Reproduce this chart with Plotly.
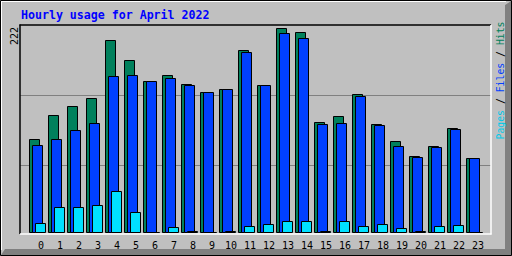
import plotly.graph_objects as go

hours = list(range(24))
hour_labels = [str(h) for h in hours]
hits = [101, 127, 137, 146, 209, 187, 164, 171, 161, 152, 156, 198, 160, 222, 218, 120, 126, 150, 118, 99, 83, 94, 113, 80]
files = [95, 101, 111, 119, 170, 171, 164, 168, 160, 152, 156, 196, 160, 217, 211, 118, 119, 148, 117, 94, 82, 92, 112, 80]
pages = [10, 27, 27, 29, 44, 22, 0, 5, 1, 0, 1, 6, 8, 12, 12, 1, 12, 6, 8, 4, 1, 6, 7, 0]
grid_values = [73, 150]
max_label = "222"
title = "Hourly usage for April 2022"

C_HITS = "#00805C"
C_FILES = "#0040FF"
C_PAGES = "#00E0FF"
BG = "#C0C0C0"

W, H = 512, 256
PX0, PX1, PY0, PY1 = 20, 491, 25, 233
UNIT = 19.0  # px per hour


def px(x):
    return (x - PX0) / (PX1 - PX0)


def py(y):
    return (PY1 - y) / (PY1 - PY0)


bw = 10 / UNIT
fig = go.Figure()
for vals, col, off in [(hits, C_HITS, -11), (files, C_FILES, -8), (pages, C_PAGES, -5)]:
    fig.add_trace(go.Bar(
        x=hours, y=vals, width=bw, offset=off / UNIT,
        marker=dict(color=col, line=dict(color="black", width=1)),
        hoverinfo="skip", showlegend=False))

shapes = []
# outer frame
shapes.append(dict(type="rect", xref="paper", yref="paper",
                   x0=px(0.5), x1=px(511.5), y0=py(0.5), y1=py(255.5),
                   line=dict(color="black", width=1), layer="below"))
shapes.append(dict(type="line", xref="paper", yref="paper",
                   x0=px(1), x1=px(506), y0=py(1.5), y1=py(1.5),
                   line=dict(color="white", width=1)))
shapes.append(dict(type="line", xref="paper", yref="paper",
                   x0=px(1.5), x1=px(1.5), y0=py(1), y1=py(250),
                   line=dict(color="white", width=1)))
path = "M {} {} L {} {} L {} {} L {} {} L {} {} L {} {} Z".format(
    px(511), py(1), px(511), py(255), px(1), py(255), px(5), py(249),
    px(505), py(249), px(505), py(5))
shapes.append(dict(type="path", xref="paper", yref="paper", path=path,
                   fillcolor="#808080", line=dict(width=0)))
# plot area border
shapes.append(dict(type="line", xref="paper", yref="paper",
                   x0=px(19.5), x1=px(491), y0=py(25), y1=py(25),
                   line=dict(color="black", width=1.5)))
shapes.append(dict(type="line", xref="paper", yref="paper",
                   x0=px(20), x1=px(20), y0=py(24.5), y1=py(234),
                   line=dict(color="black", width=1.5)))
shapes.append(dict(type="line", xref="paper", yref="paper",
                   x0=px(20), x1=px(491.5), y0=py(234), y1=py(234),
                   line=dict(color="white", width=1.5)))
shapes.append(dict(type="line", xref="paper", yref="paper",
                   x0=px(491), x1=px(491), y0=py(25), y1=py(234.5),
                   line=dict(color="white", width=1.5)))

annotations = []
for h, lab in zip(hours, hour_labels):
    annotations.append(dict(x=h, y=py(245), xref="x", yref="paper", text=lab,
                            showarrow=False, xanchor="center", yanchor="middle",
                            font=dict(family="DejaVu Sans Mono", size=10, color="black")))
annotations.append(dict(x=px(19), y=py(15), xref="paper", yref="paper", text="<b>" + title + "</b>",
                        showarrow=False, xanchor="left", yanchor="middle",
                        font=dict(family="DejaVu Sans Mono", size=11.6, color="#0000FF")))
annotations.append(dict(x=px(14), y=py(36), xref="paper", yref="paper", text=max_label,
                        textangle=-90, showarrow=False, xanchor="center", yanchor="middle",
                        font=dict(family="DejaVu Sans Mono", size=10, color="black")))
side = ("<span style='color:#00C8E8'>Pages</span> / "
        "<span style='color:#0040FF'>Files</span> / "
        "<span style='color:#00805C'>Hits</span>")
annotations.append(dict(x=px(499.5), y=py(81), xref="paper", yref="paper", text=side,
                        textangle=-90, showarrow=False, xanchor="center", yanchor="middle",
                        font=dict(family="DejaVu Sans Mono", size=9.8, color="black")))

vmax = 222
scale = (232.7 - 29.3) / vmax  # px per unit
fig.update_layout(
    width=W, height=H, margin=dict(l=PX0, r=W - PX1, t=PY0, b=H - PY1),
    paper_bgcolor=BG, plot_bgcolor=BG, barmode="overlay", bargap=0,
    xaxis=dict(range=[(PX0 - 40.5) / UNIT, (PX1 - 40.5) / UNIT], showticklabels=False,
               showgrid=False, zeroline=False, fixedrange=True),
    yaxis=dict(range=[-(233 - 232.7) / scale, (232.7 - 25) / scale],
               tickvals=grid_values, showticklabels=False,
               showgrid=True, gridcolor="#808080", gridwidth=1, zeroline=False, fixedrange=True),
    shapes=shapes, annotations=annotations, showlegend=False,
)
fig.write_html("out.html", config={"displayModeBar": False})
